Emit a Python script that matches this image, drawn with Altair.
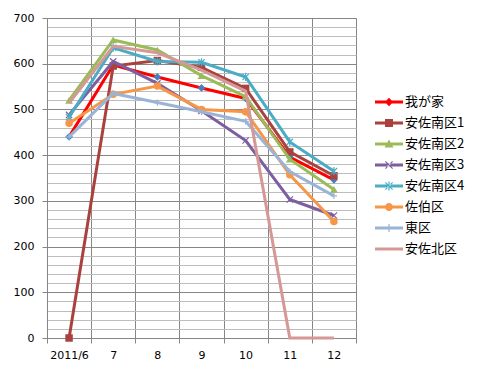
import altair as alt
import pandas as pd

months = ["2011/6", "7", "8", "9", "10", "11", "12"]
series = ["我が家", "安佐南区1", "安佐南区2", "安佐南区3", "安佐南区4", "佐伯区", "東区", "安佐北区"]

v_home = [440, 597, 571, 547, 524, 396, 346]
v_minami1 = [0, 595, 607, 592, 546, 407, 355]
v_minami2 = [520, 652, 630, 574, 528, 391, 325]
v_minami3 = [488, 605, 557, 497, 432, 303, 268]
v_minami4 = [483, 635, 605, 603, 571, 429, 365]
v_saeki = [470, 533, 551, 500, 495, 357, 255]
v_higashi = [440, 535, 515, 495, 474, 364, 311]
v_kita = [514, 638, 624, 586, 540, 0, 0]

values = [v_home, v_minami1, v_minami2, v_minami3, v_minami4, v_saeki, v_higashi, v_kita]

line_colors = ["#FF0000", "#A9413E", "#9BBB59", "#7D5FA0", "#4AACC5", "#F79646", "#9AB4D8", "#D59896"]
marker_colors = ["#4A7EBB", "#A9413E", "#9BBB59", "#7D5FA0", "#4AACC5", "#F79646", "#9AB4D8", "#D59896"]

# marker per series: (shape, filled, size)
markers = {
    "我が家": ("diamond", True, 60),
    "安佐南区1": ("square", True, 56),
    "安佐南区2": ("triangle-up", True, 60),
    "安佐南区3": ("M-1,-1L1,1M-1,1L1,-1", False, 40),
    "安佐南区4": ("M-1,-1L1,1M-1,1L1,-1M0,-1.3L0,1.3", False, 40),
    "佐伯区": ("circle", True, 56),
    "東区": ("M0,-1L0,1M-1,0L1,0", False, 40),
}

bar = "M-1.4,-0.15H1.4V0.15H-1.4Z"
xs = "M-0.4,-0.32L-0.32,-0.4L0.4,0.32L0.32,0.4Z M-0.4,0.32L-0.32,0.4L0.4,-0.32L0.32,-0.4Z"
legend_paths = [
    bar + "M0,-0.42L0.42,0L0,0.42L-0.42,0Z",
    bar + "M-0.4,-0.4H0.4V0.4H-0.4Z",
    bar + "M0,-0.45L0.45,0.35H-0.45Z",
    bar + xs,
    bar + xs + " M-0.06,-0.45H0.06V0.45H-0.06Z",
    bar + "M-0.4,0A0.4,0.4,0,1,1,0.4,0A0.4,0.4,0,1,1,-0.4,0Z",
    bar + "M-0.06,-0.4H0.06V0.4H-0.06Z",
    bar,
]

rows = []
for s, vals in zip(series, values):
    for i, v in enumerate(vals):
        rows.append({"s": s, "i": i, "v": v})
df = pd.DataFrame(rows)

grid_dark = "#868686"
grid_light = "#BDBDBD"

month_arr = "[" + ",".join("'" + m + "'" for m in months) + "]"
x_enc = alt.X(
    "i:Q",
    scale=alt.Scale(domain=[-0.5, len(months) - 0.5], nice=False, zero=False),
    axis=alt.Axis(
        values=[k - 0.5 for k in range(len(months) + 1)],
        grid=True, gridColor=grid_dark, gridWidth=1,
        tickColor=grid_dark, tickSize=5, domainColor=grid_dark,
        labelOffset=22, labelFlush=False, labelOverlap=False, labelAngle=0,
        labelExpr="datum.value < " + str(len(months) - 1) + " ? " + month_arr + "[round(datum.value + 0.5)] : ''",
        labelFont="DejaVu Sans", labelFontSize=11, labelColor="black", labelPadding=6,
        title=None,
    ),
)
y_enc = alt.Y(
    "v:Q",
    scale=alt.Scale(domain=[0, 700], nice=False),
    axis=alt.Axis(
        values=list(range(0, 701, 20)),
        grid=True,
        gridColor={"condition": {"test": "datum.value % 100 === 0", "value": grid_dark}, "value": grid_light},
        tickColor={"condition": {"test": "datum.value % 100 === 0", "value": grid_dark}, "value": "transparent"},
        tickSize=5, domainColor=grid_dark,
        labelExpr="datum.value % 100 === 0 ? datum.label : ''",
        labelFont="DejaVu Sans", labelFontSize=11, labelColor="black", labelPadding=8,
        title=None,
    ),
)

base = alt.Chart(df)
# line/marker scales use differently-ordered domains (same mapping) so their
# disabled legends are not merged with the visible colour legend
line_scale = alt.Scale(domain=series[::-1], range=line_colors[::-1])
filled_names = [s for s in series if s in markers and markers[s][1]]
fill_scale = alt.Scale(domain=filled_names,
                       range=[marker_colors[series.index(s)] for s in filled_names])

layers = []
for s in series:
    layers.append(
        base.transform_filter(alt.datum.s == s).mark_line(strokeWidth=3).encode(
            x=x_enc, y=y_enc,
            stroke=alt.Stroke("s:N", scale=line_scale, legend=None),
            order=alt.Order("i:Q"),
        )
    )
    if s in markers:
        shp, filled, size = markers[s]
        if filled:
            layers.append(
                base.transform_filter(alt.datum.s == s)
                .mark_point(shape=shp, filled=True, opacity=1, size=size)
                .encode(x=x_enc, y=y_enc,
                        fill=alt.Fill("s:N", scale=fill_scale, legend=None))
            )
        else:
            layers.append(
                base.transform_filter(alt.datum.s == s)
                .mark_point(shape=shp, filled=False, opacity=1, size=size, strokeWidth=1.2)
                .encode(x=x_enc, y=y_enc,
                        stroke=alt.Stroke("s:N", scale=line_scale, legend=None))
            )

leg = alt.Legend(
    title=None, orient="none", legendX=332, legendY=74,
    labelFont="Noto Sans CJK JP", labelFontSize=13, labelColor="black",
    symbolSize=400, symbolOpacity=1, symbolStrokeWidth=0,
    rowPadding=4, labelOffset=6, padding=0,
)
# legend-only layer: no visible marks, legend entries come from the explicit scale domain
legend_layer = base.transform_filter("datum.v < 0").mark_point(filled=True, opacity=1).encode(
    x=x_enc, y=y_enc,
    color=alt.Color("s:N", scale=alt.Scale(domain=series, range=line_colors), legend=leg),
    shape=alt.Shape("s:N", scale=alt.Scale(domain=series, range=legend_paths), legend=leg),
)
layers.append(legend_layer)

chart = alt.layer(*layers).properties(
    width=309, height=320,
    autosize=alt.AutoSizeParams(type="none"),
    padding={"left": 39, "top": 10, "right": 123, "bottom": 30},
).configure_view(stroke=None).configure(background="white")

chart.save("out.html", embed_options={"renderer": "svg", "actions": False})
